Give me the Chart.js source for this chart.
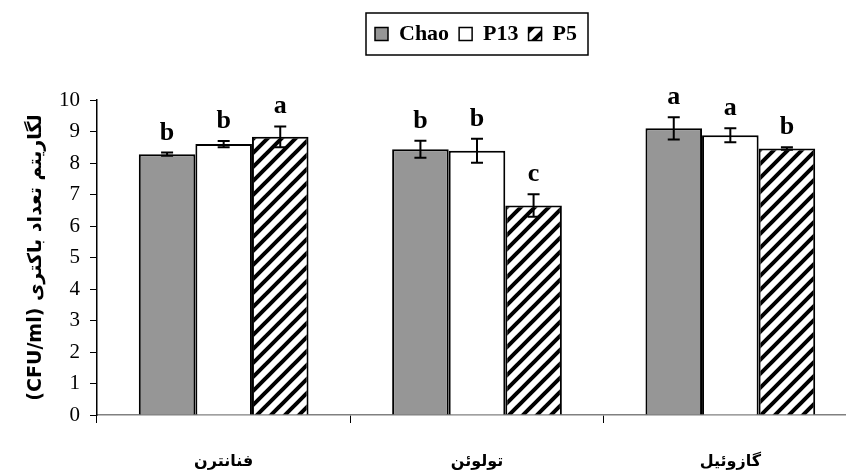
<!DOCTYPE html>
<html><head><meta charset="utf-8">
<script src="https://cdn.jsdelivr.net/npm/chart.js@4.4.1/dist/chart.umd.min.js"></script>
<style>html,body{margin:0;padding:0;background:#fff;overflow:hidden;width:846px;height:475px}canvas{display:block}</style>
</head><body>
<canvas id="c" width="950" height="475"></canvas>
<script>
const categories = ["فنانترن", "تولوئن", "گازوئیل"];
const seriesNames = ["Chao", "P13", "P5"];
const chaoValues = [8.28, 8.44, 9.10];
const p13Values = [8.60, 8.39, 8.88];
const p5Values = [8.83, 6.65, 8.46];
const chaoErrors = [0.05, 0.27, 0.35];
const p13Errors = [0.10, 0.38, 0.22];
const p5Errors = [0.33, 0.36, 0.04];
const chaoLetters = ["b", "b", "a"];
const p13Letters = ["b", "b", "a"];
const p5Letters = ["a", "c", "b"];
const yTicks = [0,1,2,3,4,5,6,7,8,9,10];
const yTitle = "(CFU/ml) لگاریتم تعداد باکتری";

function hatch() {
  const s = 14, c = document.createElement('canvas');
  c.width = s; c.height = s;
  const g = c.getContext('2d');
  g.fillStyle = '#fff'; g.fillRect(0,0,s,s);
  g.strokeStyle = '#000'; g.lineWidth = 4;
  g.beginPath();
  g.moveTo(-s, 2*s); g.lineTo(2*s, -s);
  g.moveTo(-2*s, 2*s); g.lineTo(s, -s);
  g.moveTo(0, 2*s); g.lineTo(3*s, -s);
  g.stroke();
  return g.createPattern(c, 'repeat');
}

const errs = [chaoErrors, p13Errors, p5Errors];
const letters = [chaoLetters, p13Letters, p5Letters];

const errorPlugin = {
  id: 'errs',
  afterDatasetsDraw(chart) {
    const ctx = chart.ctx, y = chart.scales.y;
    ctx.save();
    chart.data.datasets.forEach((ds, di) => {
      const meta = chart.getDatasetMeta(di);
      meta.data.forEach((bar, i) => {
        const v = ds.data[i], e = errs[di][i];
        const yt = y.getPixelForValue(v + e), yb = y.getPixelForValue(v - e);
        ctx.strokeStyle = '#000'; ctx.lineWidth = 2;
        ctx.beginPath();
        ctx.moveTo(bar.x, yt); ctx.lineTo(bar.x, yb);
        ctx.moveTo(bar.x - 6, yt); ctx.lineTo(bar.x + 6, yt);
        ctx.moveTo(bar.x - 6, yb); ctx.lineTo(bar.x + 6, yb);
        ctx.stroke();
        ctx.fillStyle = '#000';
        ctx.font = 'bold 26px "Liberation Serif"';
        ctx.textAlign = 'center'; ctx.textBaseline = 'alphabetic';
        ctx.fillText(letters[di][i], bar.x, yt - 13);
      });
    });
    ctx.restore();
  },
  afterDraw(chart) {
    const l = chart.legend, ctx = chart.ctx;
    if (!l || !l.legendHitBoxes || !l.legendHitBoxes.length) return;
    const hb = l.legendHitBoxes;
    const x0 = hb[0].left - 9, x1 = hb[hb.length-1].left + hb[hb.length-1].width + 11;
    const cy = hb[0].top + hb[0].height / 2;
    ctx.save();
    ctx.strokeStyle = '#000'; ctx.lineWidth = 1.5;
    ctx.strokeRect(x0, cy - 21, x1 - x0, 42);
    ctx.restore();
  }
};

new Chart(document.getElementById('c'), {
  type: 'bar',
  data: {
    labels: categories,
    datasets: [
      { label: seriesNames[0], data: chaoValues, backgroundColor: '#969696', borderColor: '#000', borderWidth: 2 },
      { label: seriesNames[1], data: p13Values, backgroundColor: '#ffffff', borderColor: '#000', borderWidth: 2 },
      { label: seriesNames[2], data: p5Values, backgroundColor: hatch(), borderColor: '#000', borderWidth: 2 }
    ]
  },
  options: {
    responsive: false,
    animation: false,
    layout: { padding: { left: 25, right: 23, top: 13, bottom: 0 } },
    datasets: { bar: { categoryPercentage: 0.67, barPercentage: 1.0 } },
    plugins: {
      tooltip: { enabled: false },
      legend: {
        position: 'top',
        labels: {
          color: '#000',
          font: { family: '"Liberation Serif"', size: 22, weight: 'bold' },
          boxWidth: 13, boxHeight: 13, padding: 10,
          generateLabels(chart) {
            return chart.data.datasets.map((d, i) => ({
              text: d.label, fillStyle: d.backgroundColor, strokeStyle: '#000', lineWidth: 1.5, datasetIndex: i, fontColor: '#000'
            }));
          }
        }
      },
      subtitle: { display: true, text: '', weight: 500, font: { size: 10, lineHeight: 1 }, padding: { top: 35, bottom: 0 } }
    },
    scales: {
      x: {
        grid: { display: true, drawOnChartArea: false, drawTicks: true, tickLength: 8, offset: true, color: '#000', lineWidth: 1 },
        border: { display: true, color: '#808080', width: 1.5 },
        ticks: { color: '#000', padding: 29, font: { family: '"DejaVu Sans"', size: 16, weight: 'bold' } },
        afterFit(s) { s.height = 60; }
      },
      y: {
        min: 0, max: 10,
        afterBuildTicks(s) { s.ticks = yTicks.map(v => ({ value: v })); },
        grid: { display: true, drawOnChartArea: false, drawTicks: true, tickLength: 7, color: '#000', lineWidth: 1 },
        border: { display: true, color: '#000', width: 1.5 },
        ticks: { color: '#000', padding: 10, font: { family: '"Liberation Serif"', size: 21 } },
        title: { display: true, text: yTitle, color: '#000', padding: 0, font: { family: '"DejaVu Sans"', size: 19, weight: 'bold' } },
        afterFit(s) { s.width = 72; }
      },
      yRight: {
        position: 'right', display: true,
        grid: { display: false }, border: { display: false },
        ticks: { display: false },
        afterFit(s) { s.width = 70; }
      }
    }
  },
  plugins: [errorPlugin]
});
</script>
</body></html>
